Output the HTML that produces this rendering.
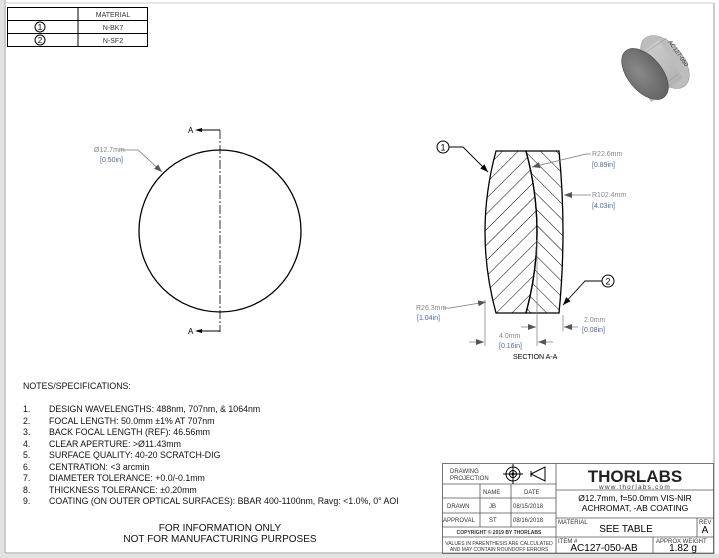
<!DOCTYPE html>
<html><head><meta charset="utf-8"><style>
html,body{margin:0;padding:0;background:#fff}
svg{display:block}
text{font-family:"Liberation Sans",sans-serif}
</style></head><body>
<svg width="719" height="558" viewBox="0 0 719 558" xmlns="http://www.w3.org/2000/svg">
<defs>
<pattern id="h1" patternUnits="userSpaceOnUse" width="11" height="11" patternTransform="rotate(45)"><line x1="0" y1="0" x2="0" y2="11" stroke="#000" stroke-width="1"/></pattern>
<pattern id="h2" patternUnits="userSpaceOnUse" width="11" height="11" patternTransform="rotate(-45)"><line x1="0" y1="0" x2="0" y2="11" stroke="#000" stroke-width="1"/></pattern>
<marker id="ar" markerWidth="8" markerHeight="6" refX="8" refY="3" orient="auto" markerUnits="userSpaceOnUse"><path d="M0,0 L8,3 L0,6z" fill="#000"/></marker>
<marker id="ag" markerWidth="8" markerHeight="6" refX="8" refY="3" orient="auto" markerUnits="userSpaceOnUse"><path d="M0,0 L8,3 L0,6z" fill="#555"/></marker>
<radialGradient id="gd" cx="0.4" cy="0.4" r="0.7"><stop offset="0" stop-color="#8a8a8a"/><stop offset="1" stop-color="#5f5f5f"/></radialGradient>
<linearGradient id="gs" x1="0" y1="0" x2="1" y2="1"><stop offset="0" stop-color="#d8d8d8"/><stop offset="1" stop-color="#a8a8a8"/></linearGradient>
</defs>
<rect x="0" y="0" width="719" height="558" fill="#fff"/>
<rect x="0" y="0" width="4" height="558" fill="#e2e2e2"/>
<line x1="5" y1="0" x2="5" y2="553" stroke="#999" stroke-width="1"/>
<line x1="5" y1="553" x2="715" y2="553" stroke="#999" stroke-width="1"/>
<line x1="714" y1="3" x2="714" y2="553" stroke="#999" stroke-width="1"/>
<line x1="5" y1="3" x2="714" y2="3" stroke="#ccc" stroke-width="1"/>
<rect x="0" y="554" width="719" height="4" fill="#e2e2e2"/>
<g stroke="#000" stroke-width="1" fill="none">
<rect x="7.5" y="7.5" width="140" height="39"/>
<line x1="78" y1="7.5" x2="78" y2="46.5"/>
<line x1="7.5" y1="20.5" x2="147.5" y2="20.5"/>
<line x1="7.5" y1="33.5" x2="147.5" y2="33.5"/>
<circle cx="40" cy="27" r="5"/><circle cx="40" cy="40" r="5"/>
</g>
<g font-size="7" fill="#333" text-anchor="middle">
<text x="113" y="17">MATERIAL</text>
<text x="113" y="30">N-BK7</text>
<text x="113" y="43">N-SF2</text>
<text x="40" y="30" font-size="8" fill="#000">1</text>
<text x="40" y="43" font-size="8" fill="#000">2</text>
</g>
<circle cx="220" cy="231" r="81" fill="none" stroke="#000" stroke-width="1.3"/>
<line x1="220" y1="130" x2="220" y2="332" stroke="#000" stroke-width="0.8" stroke-dasharray="9,2,2,2"/>
<line x1="201" y1="130" x2="220" y2="130" stroke="#000" stroke-width="0.9"/>
<line x1="201" y1="331" x2="220" y2="331" stroke="#000" stroke-width="0.9"/>
<path d="M202,128 l-7,2 l7,2z M202,329 l-7,2 l7,2z" fill="#000"/>
<text x="188" y="133" font-size="8">A</text>
<text x="188" y="334" font-size="8">A</text>
<polyline points="120,150 138,150 162,172" fill="none" stroke="#777" stroke-width="0.8" marker-end="url(#ag)"/>
<text x="94" y="152" font-size="7" fill="#888">Ø12.7mm</text>
<text x="100" y="162" font-size="7" fill="#4a6a9a">[0.50in]</text>
<path d="M496,151 L526,151 Q548,232 526,313 L496,313 Q474,232 496,151Z" fill="url(#h1)" stroke="#000" stroke-width="1.3"/>
<path d="M526,151 L559,151 Q567,232 559,313 L526,313 Q548,232 526,151Z" fill="url(#h2)" stroke="#000" stroke-width="1.3"/>
<circle cx="443" cy="147" r="6" fill="#fff" stroke="#000"/><text x="443" y="150.5" font-size="9" text-anchor="middle">1</text>
<polyline points="449,147 463,147 488,172" fill="none" stroke="#000" stroke-width="0.9" marker-end="url(#ar)"/>
<circle cx="608" cy="281" r="6" fill="#fff" stroke="#000"/><text x="608" y="284.5" font-size="9" text-anchor="middle">2</text>
<polyline points="602,281 585,281 563,305" fill="none" stroke="#000" stroke-width="0.9" marker-end="url(#ar)"/>
<polyline points="591,154 586,154 532,167" fill="none" stroke="#777" stroke-width="0.8" marker-end="url(#ag)"/>
<text x="592" y="156" font-size="7" fill="#888">R22.6mm</text>
<text x="592" y="167" font-size="7" fill="#4a6a9a">[0.89in]</text>
<line x1="591" y1="195" x2="564" y2="195" stroke="#777" stroke-width="0.8" marker-end="url(#ag)"/>
<text x="592" y="197" font-size="7" fill="#888">R102.4mm</text>
<text x="592" y="208" font-size="7" fill="#4a6a9a">[4.03in]</text>
<polyline points="443,308 450,308 486,302" fill="none" stroke="#777" stroke-width="0.8" marker-end="url(#ag)"/>
<text x="416" y="310" font-size="7" fill="#888">R26.3mm</text>
<text x="417" y="320" font-size="7" fill="#4a6a9a">[1.04in]</text>
<g stroke="#777" stroke-width="0.7">
<line x1="485" y1="300" x2="485" y2="346"/>
<line x1="537" y1="240" x2="537" y2="346"/>
<line x1="563" y1="315" x2="563" y2="331"/>
<line x1="469" y1="342" x2="484" y2="342" marker-end="url(#ag)"/>
<line x1="553" y1="342" x2="538" y2="342" marker-end="url(#ag)"/>
<line x1="521" y1="327" x2="536" y2="327" marker-end="url(#ag)"/>
<line x1="578" y1="327" x2="564" y2="327" marker-end="url(#ag)"/>
</g>
<text x="499" y="338" font-size="7" fill="#888">4.0mm</text>
<text x="499" y="348" font-size="7" fill="#4a6a9a">[0.16in]</text>
<text x="584" y="322" font-size="7" fill="#888">2.0mm</text>
<text x="582" y="332" font-size="7" fill="#4a6a9a">[0.08in]</text>
<text x="513" y="359" font-size="7">SECTION A-A</text>
<!-- photo: cylinder -->
<ellipse cx="665" cy="62" rx="18" ry="31" transform="rotate(-40 665 62)" fill="#bdbdbd" stroke="#999" stroke-width="0.6"/>
<path d="M627,64 L659,40 L683,78 L651,102Z" fill="url(#gs)"/>
<path d="M637,58 L667,38 M648,97 L678,74" stroke="#888" stroke-width="0.5"/>
<ellipse cx="645" cy="74" rx="17" ry="30" transform="rotate(-40 645 74)" fill="url(#gd)" stroke="#444" stroke-width="0.6"/>
<text x="668" y="42" font-size="6" fill="#333" transform="rotate(55 668 42)">AC127-050</text>
<g font-size="8.8" fill="#111">
<text x="23" y="389">NOTES/SPECIFICATIONS:</text>
<text x="23" y="412">1.</text><text x="49" y="412">DESIGN WAVELENGTHS: 488nm, 707nm, &amp; 1064nm</text>
<text x="23" y="424">2.</text><text x="49" y="424">FOCAL LENGTH: 50.0mm ±1% AT 707nm</text>
<text x="23" y="435">3.</text><text x="49" y="435">BACK FOCAL LENGTH (REF): 46.56mm</text>
<text x="23" y="447">4.</text><text x="49" y="447">CLEAR APERTURE: &gt;Ø11.43mm</text>
<text x="23" y="458">5.</text><text x="49" y="458">SURFACE QUALITY: 40-20 SCRATCH-DIG</text>
<text x="23" y="470">6.</text><text x="49" y="470">CENTRATION: &lt;3 arcmin</text>
<text x="23" y="481">7.</text><text x="49" y="481">DIAMETER TOLERANCE: +0.0/-0.1mm</text>
<text x="23" y="493">8.</text><text x="49" y="493">THICKNESS TOLERANCE: ±0.20mm</text>
<text x="23" y="504">9.</text><text x="49" y="504">COATING (ON OUTER OPTICAL SURFACES): BBAR 400-1100nm, Ravg: &lt;1.0%, 0° AOI</text>
<text x="220" y="531" font-size="10" text-anchor="middle">FOR INFORMATION ONLY</text>
<text x="220" y="542" font-size="10" text-anchor="middle">NOT FOR MANUFACTURING PURPOSES</text>
</g>
<g stroke="#555" stroke-width="0.8" fill="none">
<rect x="442.5" y="463.5" width="271" height="90"/>
<line x1="556" y1="463.5" x2="556" y2="553.5"/>
<line x1="442.5" y1="484" x2="556" y2="484"/>
<line x1="442.5" y1="498" x2="556" y2="498"/>
<line x1="442.5" y1="513" x2="556" y2="513"/>
<line x1="442.5" y1="527" x2="556" y2="527"/>
<line x1="442.5" y1="537" x2="556" y2="537"/>
<line x1="480" y1="484" x2="480" y2="527"/>
<line x1="511" y1="484" x2="511" y2="527"/>
<line x1="556" y1="490" x2="713.5" y2="490"/>
<line x1="556" y1="518" x2="713.5" y2="518"/>
<line x1="556" y1="537" x2="713.5" y2="537"/>
<line x1="697" y1="518" x2="697" y2="537"/>
<line x1="653" y1="537" x2="653" y2="553.5"/>
</g>
<g stroke="#000" stroke-width="1" fill="none">
<circle cx="513" cy="474" r="7"/><circle cx="513" cy="474" r="3.5"/>
<line x1="503" y1="474" x2="523" y2="474"/><line x1="513" y1="464" x2="513" y2="484"/>
<path d="M531,474 L545,467 L545,481Z M531,471 L531,477"/>
</g>
<circle cx="513" cy="474" r="1.5" fill="#000"/>
<g font-size="6" fill="#333">
<text x="450" y="473">DRAWING</text><text x="450" y="480">PROJECTION</text>
<text x="483" y="494">NAME</text><text x="524" y="494">DATE</text>
<text x="447" y="508">DRAWN</text><text x="489" y="508">JB</text><text x="513" y="508">08/15/2018</text>
<text x="443" y="522">APPROVAL</text><text x="489" y="522">ST</text><text x="513" y="522">08/16/2018</text>
<text x="499" y="534" font-size="5" font-weight="bold" text-anchor="middle">COPYRIGHT © 2019 BY THORLABS</text>
<text x="499" y="545" font-size="5" text-anchor="middle">VALUES IN PARENTHESIS ARE CALCULATED</text>
<text x="499" y="551" font-size="5" text-anchor="middle">AND MAY CONTAIN ROUNDOFF ERRORS</text>
<text x="558" y="524">MATERIAL</text>
<text x="699" y="524">REV</text>
<text x="558" y="543">ITEM #</text>
<text x="656" y="543">APPROX WEIGHT</text>
</g>
<text x="635" y="482" font-size="17" font-weight="bold" text-anchor="middle" fill="#222">THORLABS</text>
<text x="635" y="489" font-size="6.5" text-anchor="middle" fill="#333" letter-spacing="1.2">www.thorlabs.com</text>
<text x="635" y="501" font-size="8.5" text-anchor="middle">Ø12.7mm, f=50.0mm VIS-NIR</text>
<text x="635" y="511" font-size="8.5" text-anchor="middle">ACHROMAT, -AB COATING</text>
<text x="626" y="532" font-size="10" text-anchor="middle">SEE TABLE</text>
<text x="705" y="533" font-size="10" text-anchor="middle">A</text>
<text x="604" y="551" font-size="10" text-anchor="middle">AC127-050-AB</text>
<text x="683" y="551" font-size="10" text-anchor="middle">1.82 g</text>
</svg>
</body></html>
